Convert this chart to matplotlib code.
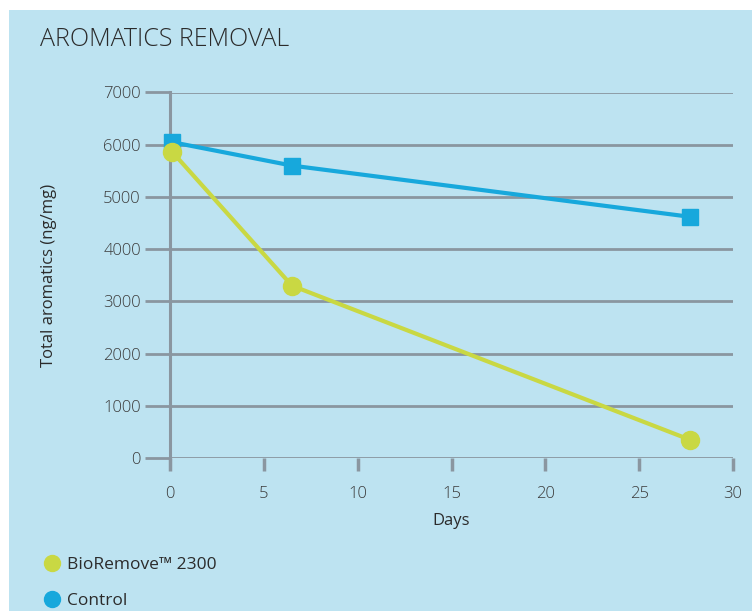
import matplotlib.pyplot as plt
from matplotlib.lines import Line2D
from matplotlib.patches import Rectangle

days_control = [0.1, 6.5, 27.7]
control = [6050, 5600, 4620]
days_bio = [0.1, 6.5, 27.7]
bioremove = [5870, 3300, 350]

x_ticks = [0, 5, 10, 15, 20, 25, 30]
y_ticks = [0, 1000, 2000, 3000, 4000, 5000, 6000, 7000]

bg = '#bde3f1'
blue = '#17a8dc'
green = '#c9d843'
grid_col = '#8a96a0'
text_col = '#2b2b2b'
tick_col = '#3c3c3c'

plt.rcParams['font.family'] = ['Open Sans', 'DejaVu Sans']

fig = plt.figure(figsize=(7.52, 6.11), dpi=100, facecolor='white')
fig.patches.append(Rectangle((9 / 752, 0), 1, 1 - 10 / 611, transform=fig.transFigure,
                             facecolor=bg, edgecolor='none', zorder=-10))

ax = fig.add_axes([170 / 752, 1 - 458 / 611, (733 - 170) / 752, (458 - 92.5) / 611])
ax.set_facecolor('none')

ax.plot(days_control, control, color=blue, lw=3, marker='s', ms=11, zorder=3, clip_on=False)
ax.plot(days_bio, bioremove, color=green, lw=3, marker='o', ms=13, zorder=4, clip_on=False)

ax.set_xlim(0, 30)
ax.set_ylim(0, 7000)
ax.set_xticks(x_ticks)
ax.set_yticks(y_ticks)
for s in ['top', 'right', 'bottom']:
    ax.spines[s].set_visible(False)
ax.spines['left'].set_color(grid_col)
ax.spines['left'].set_linewidth(2.2)
ax.yaxis.grid(True, color=grid_col, lw=2)
ax.set_axisbelow(True)

ax.tick_params(axis='y', length=18, width=2, color=grid_col, labelsize=12,
               labelcolor=tick_col, pad=3)
ax.tick_params(axis='x', length=9, width=2.5, color=grid_col, labelsize=12,
               labelcolor=tick_col, pad=11)
for lab in ax.get_xticklabels() + ax.get_yticklabels():
    lab.set_fontweight('light')

ax.set_xlabel('Days', fontsize=12, color=text_col, labelpad=8)
ax.set_ylabel('Total aromatics (ng/mg)', fontsize=12, color=text_col)
ax.yaxis.set_label_coords(-0.2, 0.5)

fig.text(40 / 752, 1 - 40 / 611, 'AROMATICS REMOVAL', fontsize=18, color=text_col,
         va='center', ha='left', fontweight='light')

handles = [Line2D([], [], color=green, marker='o', ls='none', ms=11.5),
           Line2D([], [], color=blue, marker='o', ls='none', ms=11.5)]
fig.legend(handles, ['BioRemove™ 2300', 'Control'], loc='upper left',
           bbox_to_anchor=(28 / 752, 1 - 541 / 611), frameon=False, fontsize=12.5,
           handletextpad=0.35, labelspacing=1.15, handlelength=1.0, labelcolor=text_col)

fig.savefig('out.png', dpi=100)
